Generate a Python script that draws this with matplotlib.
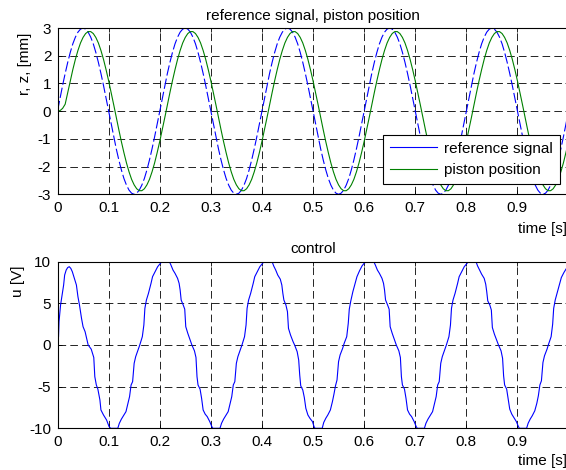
import matplotlib
matplotlib.use('Agg')
import matplotlib.pyplot as plt
from matplotlib.lines import Line2D
import numpy as np

# ---------------- data ----------------
# time base of the position signals (s)
t_pos = np.linspace(0.0, 1.0, 201)

# reference signal r [mm]
ref_signal = [
    0, .47, .93, 1.36, 1.76, 2.12, 2.43, 2.67, 2.85, 2.96, 3.0, 2.96, 2.85, 2.67, 2.43, 2.12, 1.76, 1.36, .93, .47,
    0, -.47, -.93, -1.36, -1.76, -2.12, -2.43, -2.67, -2.85, -2.96, -3.0, -2.96, -2.85, -2.67, -2.43, -2.12, -1.76, -1.36, -.93, -.47,
    0, .47, .93, 1.36, 1.76, 2.12, 2.43, 2.67, 2.85, 2.96, 3.0, 2.96, 2.85, 2.67, 2.43, 2.12, 1.76, 1.36, .93, .47,
    0, -.47, -.93, -1.36, -1.76, -2.12, -2.43, -2.67, -2.85, -2.96, -3.0, -2.96, -2.85, -2.67, -2.43, -2.12, -1.76, -1.36, -.93, -.47,
    0, .47, .93, 1.36, 1.76, 2.12, 2.43, 2.67, 2.85, 2.96, 3.0, 2.96, 2.85, 2.67, 2.43, 2.12, 1.76, 1.36, .93, .47,
    0, -.47, -.93, -1.36, -1.76, -2.12, -2.43, -2.67, -2.85, -2.96, -3.0, -2.96, -2.85, -2.67, -2.43, -2.12, -1.76, -1.36, -.93, -.47,
    0, .47, .93, 1.36, 1.76, 2.12, 2.43, 2.67, 2.85, 2.96, 3.0, 2.96, 2.85, 2.67, 2.43, 2.12, 1.76, 1.36, .93, .47,
    0, -.47, -.93, -1.36, -1.76, -2.12, -2.43, -2.67, -2.85, -2.96, -3.0, -2.96, -2.85, -2.67, -2.43, -2.12, -1.76, -1.36, -.93, -.47,
    0, .47, .93, 1.36, 1.76, 2.12, 2.43, 2.67, 2.85, 2.96, 3.0, 2.96, 2.85, 2.67, 2.43, 2.12, 1.76, 1.36, .93, .47,
    0, -.47, -.93, -1.36, -1.76, -2.12, -2.43, -2.67, -2.85, -2.96, -3.0, -2.96, -2.85, -2.67, -2.43, -2.12, -1.76, -1.36, -.93, -.47,
    0,
]

# piston position z [mm]
piston_position = [
    0, 0.02, 0.10,
    0.25, 0.67, 1.10, 1.50, 1.87, 2.19, 2.46, 2.66, 2.80, 2.87, 2.87, 2.80, 2.66, 2.46, 2.19, 1.87, 1.50, 1.10, 0.67, 0.23,
    -0.23, -0.67, -1.10, -1.50, -1.87, -2.19, -2.46, -2.66, -2.80, -2.87, -2.87, -2.80, -2.66, -2.46, -2.19, -1.87, -1.50, -1.10, -0.67, -0.23,
    0.23, 0.67, 1.10, 1.50, 1.87, 2.19, 2.46, 2.66, 2.80, 2.87, 2.87, 2.80, 2.66, 2.46, 2.19, 1.87, 1.50, 1.10, 0.67, 0.23,
    -0.23, -0.67, -1.10, -1.50, -1.87, -2.19, -2.46, -2.66, -2.80, -2.87, -2.87, -2.80, -2.66, -2.46, -2.19, -1.87, -1.50, -1.10, -0.67, -0.23,
    0.23, 0.67, 1.10, 1.50, 1.87, 2.19, 2.46, 2.66, 2.80, 2.87, 2.87, 2.80, 2.66, 2.46, 2.19, 1.87, 1.50, 1.10, 0.67, 0.23,
    -0.23, -0.67, -1.10, -1.50, -1.87, -2.19, -2.46, -2.66, -2.80, -2.87, -2.87, -2.80, -2.66, -2.46, -2.19, -1.87, -1.50, -1.10, -0.67, -0.23,
    0.23, 0.67, 1.10, 1.50, 1.87, 2.19, 2.46, 2.66, 2.80, 2.87, 2.87, 2.80, 2.66, 2.46, 2.19, 1.87, 1.50, 1.10, 0.67, 0.23,
    -0.23, -0.67, -1.10, -1.50, -1.87, -2.19, -2.46, -2.66, -2.80, -2.87, -2.87, -2.80, -2.66, -2.46, -2.19, -1.87, -1.50, -1.10, -0.67, -0.23,
    0.23, 0.67, 1.10, 1.50, 1.87, 2.19, 2.46, 2.66, 2.80, 2.87, 2.87, 2.80, 2.66, 2.46, 2.19, 1.87, 1.50, 1.10, 0.67, 0.23,
    -0.23, -0.67, -1.10, -1.50, -1.87, -2.19, -2.46, -2.66, -2.80, -2.87, -2.87, -2.80, -2.66, -2.46, -2.19, -1.87, -1.50, -1.10,
]

# control signal u [V] (vertices of the recorded curve)
t_control = [
    0.000, 0.002, 0.003, 0.006, 0.008, 0.012, 0.014, 0.017, 0.020, 0.023, 0.026, 0.029, 0.034, 0.037, 0.040, 0.043,
    0.047, 0.050, 0.054, 0.060, 0.066, 0.071, 0.073, 0.076, 0.079, 0.083, 0.085, 0.090, 0.096, 0.101, 0.104,
    0.118, 0.121, 0.125, 0.129, 0.134, 0.138, 0.141, 0.144, 0.147, 0.150, 0.153, 0.158, 0.161, 0.166, 0.169, 0.171,
    0.174, 0.178, 0.183, 0.186, 0.191, 0.196,
    0.200, 0.204, 0.219, 0.222, 0.226, 0.230, 0.235, 0.238, 0.240, 0.242, 0.246, 0.249, 0.251, 0.255, 0.260, 0.263,
    0.268, 0.271, 0.273, 0.275, 0.279, 0.282, 0.285, 0.289, 0.293, 0.298, 0.302, 0.304,
    0.318, 0.321, 0.325, 0.329, 0.334, 0.338, 0.341, 0.344, 0.347, 0.350, 0.353, 0.358, 0.361, 0.366, 0.369, 0.371,
    0.374, 0.378, 0.383, 0.386, 0.391, 0.396,
    0.400, 0.404, 0.420, 0.423, 0.427, 0.431, 0.436, 0.439, 0.441, 0.443, 0.447, 0.450, 0.452, 0.456, 0.461, 0.464,
    0.469, 0.472, 0.474, 0.476, 0.480, 0.483, 0.486, 0.490, 0.494, 0.499, 0.502, 0.504,
    0.518, 0.521, 0.525, 0.529, 0.534, 0.538, 0.541, 0.544, 0.547, 0.550, 0.553, 0.558, 0.561, 0.566, 0.569, 0.571,
    0.574, 0.578, 0.583, 0.586, 0.591, 0.596,
    0.600, 0.604, 0.619, 0.622, 0.626, 0.630, 0.635, 0.638, 0.640, 0.642, 0.646, 0.649, 0.651, 0.655, 0.660, 0.663,
    0.668, 0.671, 0.673, 0.675, 0.679, 0.682, 0.685, 0.689, 0.693, 0.698, 0.702, 0.704,
    0.718, 0.721, 0.725, 0.729, 0.734, 0.738, 0.741, 0.744, 0.747, 0.750, 0.753, 0.758, 0.761, 0.766, 0.769, 0.771,
    0.774, 0.778, 0.783, 0.786, 0.791, 0.796,
    0.800, 0.804, 0.819, 0.822, 0.826, 0.830, 0.835, 0.838, 0.840, 0.842, 0.846, 0.849, 0.851, 0.855, 0.860, 0.863,
    0.868, 0.871, 0.873, 0.875, 0.879, 0.882, 0.885, 0.889, 0.893, 0.898, 0.902, 0.904,
    0.918, 0.921, 0.925, 0.929, 0.934, 0.938, 0.941, 0.944, 0.947, 0.950, 0.953, 0.958, 0.961, 0.966, 0.969, 0.971,
    0.974, 0.978, 0.983, 0.986, 0.991, 0.996, 1.000,
]
u_control = [
    0.0, 1.0, 2.8, 4.8, 5.6, 7.2, 8.4, 9.0, 9.3, 9.4, 9.2, 8.8, 7.8, 7.2, 5.8, 4.8,
    3.2, 2.2, 1.6, 0.0, -0.5, -1.5, -3.8, -4.8, -5.3, -6.6, -7.8, -8.4, -9.0, -9.8, -10.0,
    -10.0, -9.4, -8.9, -8.5, -8.0, -7.0, -6.2, -4.8, -4.4, -2.2, -1.4, -0.5, 0.0, 1.0, 2.4, 4.4,
    5.4, 6.2, 7.4, 8.2, 8.8, 9.4,
    9.7, 10.0, 10.0, 9.6, 9.0, 8.6, 8.0, 7.4, 6.6, 5.4, 4.8, 4.3, 2.2, 1.4, 0.5, 0.0,
    -0.7, -1.5, -3.8, -4.8, -5.3, -6.4, -7.8, -8.3, -8.6, -9.2, -9.8, -10.0,
    -10.0, -9.4, -8.9, -8.5, -8.0, -7.0, -6.2, -4.8, -4.4, -2.2, -1.4, -0.5, 0.0, 1.0, 2.4, 4.4,
    5.4, 6.2, 7.4, 8.2, 8.8, 9.4,
    9.7, 10.0, 10.0, 9.5, 9.0, 8.4, 7.9, 7.2, 6.2, 5.4, 4.8, 4.0, 2.0, 1.2, 0.4, 0.0,
    -0.8, -1.8, -3.6, -4.9, -5.4, -6.3, -7.6, -8.4, -8.8, -9.2, -9.8, -10.0,
    -10.0, -9.3, -8.8, -8.4, -7.8, -6.8, -5.9, -4.9, -4.2, -2.0, -1.2, -0.4, 0.2, 1.0, 2.6, 4.3,
    5.3, 6.4, 7.5, 8.2, 8.9, 9.5,
    9.8, 10.0, 10.0, 9.6, 9.0, 8.6, 8.0, 7.4, 6.6, 5.4, 4.8, 4.3, 2.2, 1.4, 0.5, 0.0,
    -0.7, -1.5, -3.8, -4.8, -5.3, -6.4, -7.8, -8.3, -8.6, -9.2, -9.8, -10.0,
    -10.0, -9.4, -8.9, -8.5, -8.0, -7.0, -6.2, -4.8, -4.4, -2.2, -1.4, -0.5, 0.0, 1.0, 2.4, 4.4,
    5.4, 6.2, 7.4, 8.2, 8.8, 9.4,
    9.7, 10.0, 10.0, 9.5, 9.0, 8.5, 8.0, 7.3, 6.4, 5.3, 4.8, 4.2, 2.1, 1.3, 0.5, 0.0,
    -0.7, -1.6, -3.7, -4.8, -5.3, -6.5, -7.7, -8.3, -8.7, -9.2, -9.8, -10.0,
    -10.0, -9.4, -8.9, -8.5, -7.9, -7.0, -6.1, -4.8, -4.3, -2.1, -1.3, -0.5, 0.1, 1.0, 2.5, 4.4,
    5.4, 6.3, 7.4, 8.1, 8.7, 9.2, 9.6,
]

x_ticks = [0, 0.1, 0.2, 0.3, 0.4, 0.5, 0.6, 0.7, 0.8, 0.9]
x_ticklabels = ['0', '0.1', '0.2', '0.3', '0.4', '0.5', '0.6', '0.7', '0.8', '0.9']
y_ticks_pos = [3, 2, 1, 0, -1, -2, -3]
y_ticks_u = [10, 5, 0, -5, -10]

# ---------------- style ----------------
FS = 11
plt.rcParams['font.family'] = ['Liberation Sans', 'DejaVu Sans']
plt.rcParams['font.size'] = FS
plt.rcParams['axes.titlesize'] = FS
plt.rcParams['axes.labelsize'] = FS
plt.rcParams['xtick.labelsize'] = FS
plt.rcParams['ytick.labelsize'] = FS
plt.rcParams['legend.fontsize'] = FS
plt.rcParams['axes.unicode_minus'] = False
plt.rcParams['lines.scale_dashes'] = False

W, H = 566, 470
fig = plt.figure(figsize=(W / 100, H / 100), dpi=100)
fig.patch.set_facecolor('white')

left = 57.5 / W
width = 511 / W
ax1 = fig.add_axes([left, 1 - 194.3 / H, width, 166.3 / H])
ax2 = fig.add_axes([left, 1 - 428.3 / H, width, 166.6 / H])

blue = (0, 0, 1)
green = (0, 0.5, 0)

ax1.plot(t_pos, ref_signal, color=blue, lw=0.8, linestyle=(0, (7.5, 2.2)))
ax1.plot(t_pos, piston_position, color=green, lw=0.8)
ax2.plot(t_control, u_control, color=blue, lw=0.8)

for ax in (ax1, ax2):
    ax.set_xlim(0, 1)
    ax.set_xticks(x_ticks)
    ax.set_xticklabels(x_ticklabels)
    ax.grid(True, color='k', linestyle=(0, (5.5, 3.0)), lw=0.6)
    ax.tick_params(direction='in', length=3, width=0.6, top=True, right=True, pad=4.5)
    for s in ax.spines.values():
        s.set_linewidth(0.8)
        s.set_color('k')

ax1.set_ylim(-3, 3)
ax1.set_yticks(y_ticks_pos)
ax1.set_yticklabels([str(v) for v in y_ticks_pos])
ax2.set_ylim(-10, 10)
ax2.set_yticks(y_ticks_u)
ax2.set_yticklabels([str(v) for v in y_ticks_u])

ax1.set_title('reference signal, piston position', pad=6)
ax2.set_title('control', pad=6)

ax1.set_xlabel('time [s]', ha='left')
ax1.xaxis.set_label_coords(0.901, -0.209)
ax1.xaxis.label.set_va('center')
ax2.set_xlabel('time [s]', ha='left')
ax2.xaxis.set_label_coords(0.901, -0.199)
ax2.xaxis.label.set_va('center')

ax1.set_ylabel('r, z, [mm]', va='center')
ax1.yaxis.set_label_coords(-0.0636, 0.783)
ax2.set_ylabel('u [V]', va='center')
ax2.yaxis.set_label_coords(-0.078, 0.884)

handles = [Line2D([], [], color=blue, lw=0.8), Line2D([], [], color=green, lw=0.8)]
leg = ax1.legend(handles, ['reference signal', 'piston position'], loc='upper left',
                 bbox_to_anchor=(0.637, 0.357), fancybox=False, framealpha=1,
                 edgecolor='k', handlelength=3.1, handletextpad=0.45, borderpad=0.45,
                 labelspacing=0.5, borderaxespad=0)
leg.get_frame().set_linewidth(0.8)

fig.savefig('out.png', dpi=100, facecolor='white')
